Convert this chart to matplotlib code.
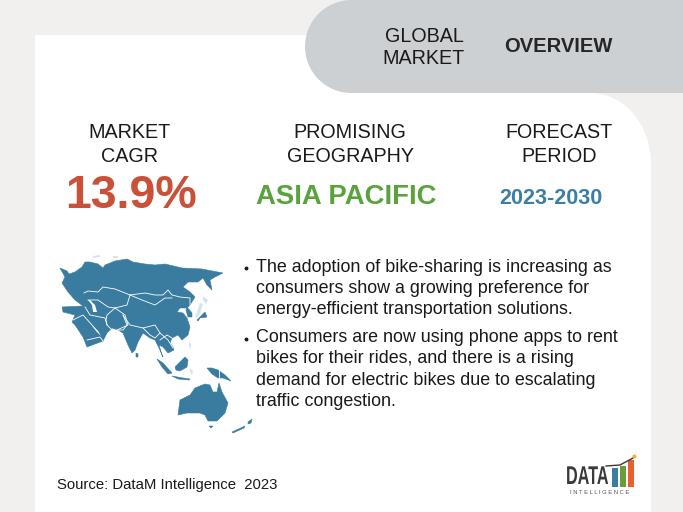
import matplotlib
matplotlib.use("Agg")
import matplotlib.pyplot as plt
from matplotlib.patches import Circle, PathPatch, Polygon, Rectangle
from matplotlib.path import Path
from matplotlib.patheffects import AbstractPathEffect
from matplotlib.transforms import Affine2D

plt.rcParams["font.family"] = ["Liberation Sans", "DejaVu Sans"]

# text content
headings = [["MARKET", "CAGR"], ["PROMISING", "GEOGRAPHY"], ["FORECAST", "PERIOD"]]
cagr = "13.9%"
geography = "ASIA PACIFIC"
period = "2023-2030"
bullets = [
    ["The adoption of bike-sharing is increasing as",
     "consumers show a growing preference for",
     "energy-efficient transportation solutions."],
    ["Consumers are now using phone apps to rent",
     "bikes for their rides, and there is a rising",
     "demand for electric bikes due to escalating",
     "traffic congestion."],
]
source = "Source: DataM Intelligence  2023"

asia = [(60,268),(67,271),(69,274),(75,272),(82,267),(85,262),(90,262),(98,264),(103,268),(105,265),
        (115,261),(127,259),(133,262),(145,264),(155,265),(165,264),(182,268),(202,269),(223,273),
        (215,277),(210,280),(212,290),(207,285),(203,278),(198,282),(188,282),(183,287),(190,292),
        (195,297),(190,305),(187,308),(180,308),(177,312),(183,313),(187,318),(190,327),(188,335),
        (182,340),(178,335),(172,338),(170,343),(173,347),(174,350),(168,353),(163,347),(159,345),
        (162,355),(163,357),(159,348),(155,340),(150,338),(143,333),(138,342),(135,350),(132,353),
        (128,345),(123,333),(118,330),(112,328),(107,333),(103,341),(87,347),(83,337),(75,325),
        (72,322),(75,315),(63,312),(62,307),(83,306),(75,300),(68,292),(62,283),(65,277)]
australia = [(178,415),(180,400),(190,395),(195,388),(205,384),(210,385),(213,392),(217,392),(219,383),
             (222,392),(228,403),(225,413),(217,421),(208,421),(205,415),(200,413),(187,413)]
islands = [
    [(187,307),(192,313),(192,317),(188,317),(186,310)],
    [(197,320),(205,312),(207,317),(200,318),(198,321)],
    [(207,368),(212,368),(218,370),(225,375),(231,381),(223,378),(218,378),(212,374)],
    [(175,367),(180,362),(185,357),(188,360),(187,367),(180,371),(176,370)],
    [(157,359),(163,363),(172,373),(168,374),(162,367)],
    [(172,376),(183,378),(190,379),(189,380),(178,379)],
    [(136,353),(138,354),(138,357),(136,357)],
    [(209,426),(213,426),(211,428)],
    [(232,432),(245,426),(244,428),(233,433)],
    [(248,422),(252,419),(251,423),(248,424)],
]
faint_islands = [
    [(189,341),(191,345),(190,350),(189,346)],
    [(190,368),(193,371),(192,375),(190,372)],
    [(195,318),(200,303),(203,304),(199,316)],
    [(203,296),(208,300),(206,304),(203,300)],
    [(93,256),(100,255),(100,257),(93,258)],
    [(113,256),(118,256),(118,258),(113,258)],
]
caspian = [(88,300),(92,305),(93,312),(97,312),(95,305),(90,300)]
gulf = [(92,326),(98,331),(101,336),(97,332)]
borders = [
    [(84,293),(88,291),(98,292),(103,287),(115,289),(130,295),(145,293),(155,295),(163,295),(168,290),
     (172,295),(180,297),(190,298),(190,305)],
    [(130,295),(142,300),(155,305),(165,298),(172,298)],
    [(88,300),(98,300),(108,307),(115,308),(127,305),(130,295)],
    [(85,307),(90,315),(105,318),(107,325),(112,330)],
    [(115,308),(107,315),(106,320),(107,325)],
    [(115,308),(125,315),(128,325),(117,330)],
    [(123,315),(127,325),(123,330),(118,330)],
    [(123,315),(130,325),(143,328),(155,325),(160,333),(168,340),(173,348)],
    [(73,320),(83,315),(92,325),(98,332)],
    [(87,340),(100,337),(103,341)],
    [(143,328),(150,335),(155,338),(160,333)],
    [(160,340),(167,335),(172,338)],
    [(219,368),(219,379)],
]

logo_bar_tops = [468, 466, 460]
logo_bar_colors = ["#3b7ea1", "#6a9d3a", "#e8602c"]


class SqueezeX(AbstractPathEffect):
    # narrows the glyphs around x0, no condensed bold font is installed
    def __init__(self, x0, factor):
        super().__init__()
        self.x0 = x0
        self.factor = factor

    def draw_path(self, renderer, gc, tpath, affine, rgbFace=None):
        squeeze = Affine2D().translate(-self.x0, 0).scale(self.factor, 1).translate(self.x0, 0)
        renderer.draw_path(gc, tpath, affine + squeeze, rgbFace)


BG = "#f1f0ee"
fig = plt.figure(figsize=(6.83, 5.12), dpi=100, facecolor=BG)
ax = fig.add_axes([0, 0, 1, 1])
ax.set_xlim(0, 683)
ax.set_ylim(512, 0)
ax.axis("off")

# white panel, the top right corner curves away below the header
panel = Path(
    [(35, 512), (35, 35), (590, 35), (590, 93), (625, 93), (651, 125), (651, 165), (651, 512), (35, 512)],
    [Path.MOVETO, Path.LINETO, Path.LINETO, Path.LINETO, Path.CURVE4, Path.CURVE4, Path.CURVE4,
     Path.LINETO, Path.CLOSEPOLY],
)
ax.add_patch(PathPatch(panel, fc="white", ec="none"))

# header pill, runs off the right edge
ax.add_patch(Circle((351.5, 46.5), 46.5, fc="#cdd0d3", ec="none"))
ax.add_patch(Rectangle((351.5, 0), 340, 93, fc="#cdd0d3", ec="none"))
ax.text(424, 36, "GLOBAL", fontsize=14.2, ha="center", va="center", color="#1a1a1a")
ax.text(424, 59, "MARKET", fontsize=14.2, ha="center", va="center", color="#1a1a1a")
ax.text(558, 47, "OVERVIEW", fontsize=14.5, fontweight="bold", ha="center", va="center", color="#262626")

# column headings and figures
for x, label in zip([130, 350, 559], headings):
    ax.text(x, 132, label[0], fontsize=14.2, ha="center", va="center", color="#1a1a1a")
    ax.text(x, 156, label[1], fontsize=14.2, ha="center", va="center", color="#1a1a1a")
ax.text(131, 196, cagr, fontsize=33.5, fontweight="bold", ha="center", va="center", color="#c9513a")
ax.text(346, 197, geography, fontsize=19.8, fontweight="bold", ha="center", va="center", color="#5aa23c")
ax.text(551, 198, period, fontsize=15.6, fontweight="bold", ha="center", va="center", color="#3d7ea6")

# map
MAP_BLUE = "#3a7ca0"
for shape in [asia, australia] + islands:
    ax.add_patch(Polygon(shape, closed=True, fc=MAP_BLUE, ec=MAP_BLUE, lw=0.4))
for shape in faint_islands:
    ax.add_patch(Polygon(shape, closed=True, fc="#d5e4ec", ec="none"))
for shape in [caspian, gulf]:
    ax.add_patch(Polygon(shape, closed=True, fc="white", ec="none"))
for line in borders:
    xs, ys = zip(*line)
    ax.plot(xs, ys, color="white", lw=0.6)

# bullets
y = 267
for i, block in enumerate(bullets):
    ax.plot([246], [y + 1], "o", ms=1.8, color="#1a1a1a")
    for line in block:
        ax.text(256, y, line, fontsize=12.9, ha="left", va="center", color="#1a1a1a")
        y += 21.3
    y += 6.7

ax.text(57, 485, source, fontsize=10.7, ha="left", va="center", color="#1a1a1a")

# logo
logo_x = ax.transData.transform((566, 477))[0]
ax.text(566, 477, "DATA", fontsize=18.5, fontweight="bold", ha="left", va="center", color="#3a3a3a",
        path_effects=[SqueezeX(logo_x, 0.63)])
for x, top, c in zip([612, 620, 628], logo_bar_tops, logo_bar_colors):
    ax.add_patch(Rectangle((x, top), 6, 487 - top, fc=c, ec="none"))
ax.text(600, 492.5, "I N T E L L I G E N C E", fontsize=4.2, ha="center", va="center", color="#555555")
ax.plot([606, 620, 633], [466, 465, 458], color="#3a3a3a", lw=1)
ax.plot([634], [456], "o", ms=1.8, color="#f0b030")

fig.savefig("out.png", dpi=100, facecolor=fig.get_facecolor())
